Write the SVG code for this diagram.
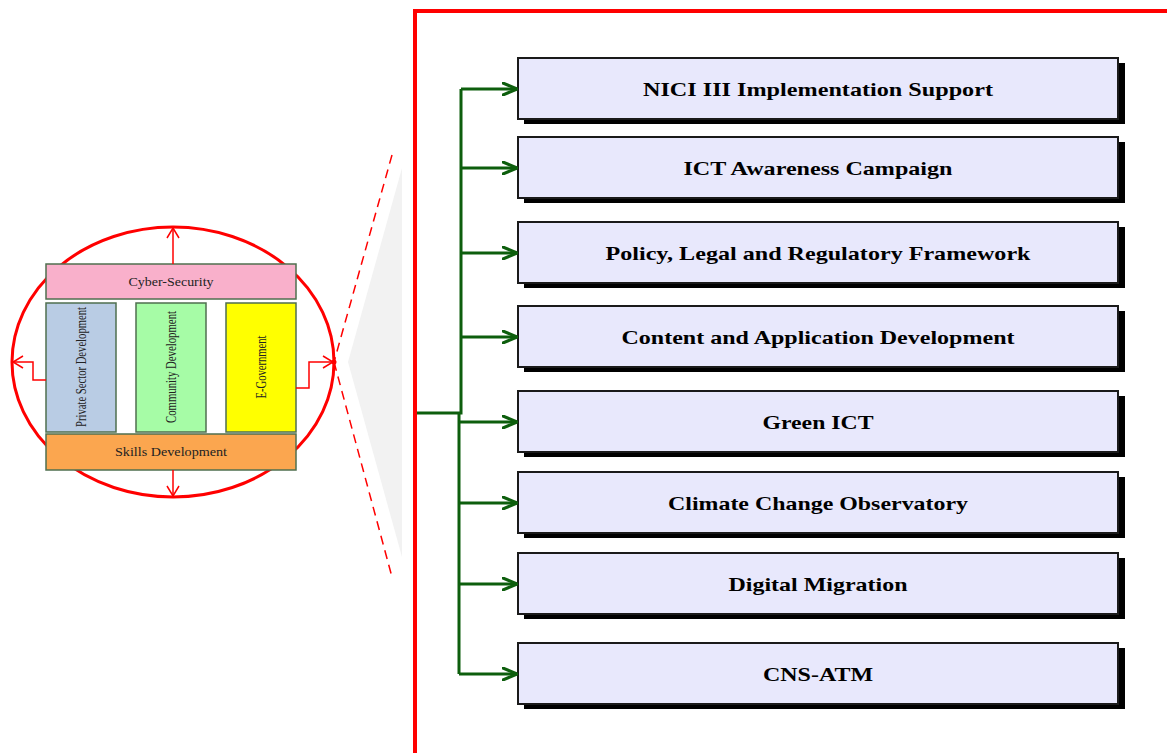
<svg xmlns="http://www.w3.org/2000/svg" width="1167" height="753" viewBox="0 0 1167 753">
<style>
.box{fill:#e8e8fc;stroke:#1a1a1a;stroke-width:2}
.sh{fill:#000}
.lbl{font-family:"Liberation Serif",serif;font-weight:bold;font-size:19px;fill:#000;text-anchor:middle}
.g{stroke:#0d5e0d;stroke-width:3;fill:none}
.sm{font-family:"Liberation Serif",serif;font-size:12.5px;fill:#222;text-anchor:middle}
.vt{font-family:"Liberation Serif",serif;font-size:14px;fill:#222;text-anchor:middle}
.pil{stroke:#4f6f4f;stroke-width:1.5}
.r{stroke:#ff0000;stroke-width:1.5;fill:none}
</style>
<defs>
<marker id="ga" viewBox="0 0 16 14" refX="15" refY="7" markerWidth="16" markerHeight="14" markerUnits="userSpaceOnUse" orient="auto">
<path d="M1,1 L15,7 L1,13" fill="none" stroke="#0d5e0d" stroke-width="3" stroke-linecap="round" stroke-linejoin="round"/>
</marker>
<marker id="ra" viewBox="0 0 12 14" refX="11" refY="7" markerWidth="12" markerHeight="14" markerUnits="userSpaceOnUse" orient="auto">
<path d="M1,1 L11,7 L1,13" fill="none" stroke="#ff0000" stroke-width="1.5"/>
</marker>
</defs>
<rect width="1167" height="753" fill="#fff"/>
<!-- gray wedge -->
<polygon points="402,168 348,362 402,557" fill="#f2f2f2"/>
<!-- dashed zoom lines -->
<g id="zoomlines" stroke="#ff0000" stroke-width="1.5" stroke-dasharray="9,6" fill="none">
<line x1="392" y1="155" x2="334" y2="362"/>
<line x1="334" y1="362" x2="392" y2="577"/>
</g>
<!-- red frame -->
<path d="M415,753 L415,11 L1167,11" fill="none" stroke="#ff0000" stroke-width="4"/>
<!-- left diagram -->
<g id="left-diagram">
<ellipse cx="173" cy="362" rx="161" ry="135" fill="none" stroke="#ff0000" stroke-width="3"/>
<g id="cyber"><rect class="pil" x="46" y="264" width="250" height="35" fill="#f9b0cb"/><text class="sm" x="171" y="286" textLength="85" lengthAdjust="spacingAndGlyphs">Cyber-Security</text></g>
<g id="private"><rect class="pil" x="46" y="303" width="70" height="129" fill="#b9cce4"/><text class="vt" transform="translate(86,367) rotate(-90)" textLength="120" lengthAdjust="spacingAndGlyphs">Private Sector Development</text></g>
<g id="community"><rect class="pil" x="136" y="303" width="70" height="129" fill="#a6fca6"/><text class="vt" transform="translate(176,367) rotate(-90)" textLength="112" lengthAdjust="spacingAndGlyphs">Community Development</text></g>
<g id="egov"><rect class="pil" x="226" y="303" width="70" height="129" fill="#ffff00"/><text class="vt" transform="translate(266,367) rotate(-90)" textLength="63" lengthAdjust="spacingAndGlyphs">E-Government</text></g>
<g id="skills"><rect class="pil" x="46" y="434" width="250" height="36" fill="#fba64f"/><text class="sm" x="171" y="456" textLength="112" lengthAdjust="spacingAndGlyphs">Skills Development</text></g>
<g id="left-arrows">
<path class="r" d="M173,264 L173,228" marker-end="url(#ra)"/>
<path class="r" d="M173,470 L173,496" marker-end="url(#ra)"/>
<path class="r" d="M46,380 L33,380 L33,362 L13,362" marker-end="url(#ra)"/>
<path class="r" d="M296,388 L309,388 L309,362 L333,362" marker-end="url(#ra)"/>
</g>
<circle cx="334" cy="362" r="2.5" fill="#ff0000"/>
</g>
<!-- nodes -->
<g id="n1"><rect class="sh" x="524" y="63" width="601" height="61"/><rect class="box" x="518" y="58" width="600" height="61"/><text class="lbl" x="818" y="96" textLength="350" lengthAdjust="spacingAndGlyphs">NICI III Implementation Support</text></g>
<g id="n2"><rect class="sh" x="524" y="142" width="601" height="61"/><rect class="box" x="518" y="137" width="600" height="61"/><text class="lbl" x="818" y="175" textLength="269" lengthAdjust="spacingAndGlyphs">ICT Awareness Campaign</text></g>
<g id="n3"><rect class="sh" x="524" y="227" width="601" height="61"/><rect class="box" x="518" y="222" width="600" height="61"/><text class="lbl" x="818" y="260" textLength="425" lengthAdjust="spacingAndGlyphs">Policy, Legal and Regulatory Framework</text></g>
<g id="n4"><rect class="sh" x="524" y="311" width="601" height="61"/><rect class="box" x="518" y="306" width="600" height="61"/><text class="lbl" x="818" y="344" textLength="393" lengthAdjust="spacingAndGlyphs">Content and Application Development</text></g>
<g id="n5"><rect class="sh" x="524" y="396" width="601" height="61"/><rect class="box" x="518" y="391" width="600" height="61"/><text class="lbl" x="818" y="429" textLength="111" lengthAdjust="spacingAndGlyphs">Green ICT</text></g>
<g id="n6"><rect class="sh" x="524" y="477" width="601" height="61"/><rect class="box" x="518" y="472" width="600" height="61"/><text class="lbl" x="818" y="510" textLength="300" lengthAdjust="spacingAndGlyphs">Climate Change Observatory</text></g>
<g id="n7"><rect class="sh" x="524" y="558" width="601" height="61"/><rect class="box" x="518" y="553" width="600" height="61"/><text class="lbl" x="818" y="591" textLength="179" lengthAdjust="spacingAndGlyphs">Digital Migration</text></g>
<g id="n8"><rect class="sh" x="524" y="648" width="601" height="61"/><rect class="box" x="518" y="643" width="600" height="61"/><text class="lbl" x="818" y="681" textLength="110" lengthAdjust="spacingAndGlyphs">CNS-ATM</text></g>
<!-- connectors -->
<g id="connectors">
<path class="g" d="M417,413 L461,413 L461,89"/>
<path class="g" d="M459,413 L459,674"/>
<path class="g" d="M461,89 L517,89" marker-end="url(#ga)"/>
<path class="g" d="M461,168 L517,168" marker-end="url(#ga)"/>
<path class="g" d="M461,253 L517,253" marker-end="url(#ga)"/>
<path class="g" d="M461,337 L517,337" marker-end="url(#ga)"/>
<path class="g" d="M459,422 L517,422" marker-end="url(#ga)"/>
<path class="g" d="M459,503 L517,503" marker-end="url(#ga)"/>
<path class="g" d="M459,584 L517,584" marker-end="url(#ga)"/>
<path class="g" d="M459,674 L517,674" marker-end="url(#ga)"/>
</g>
</svg>
